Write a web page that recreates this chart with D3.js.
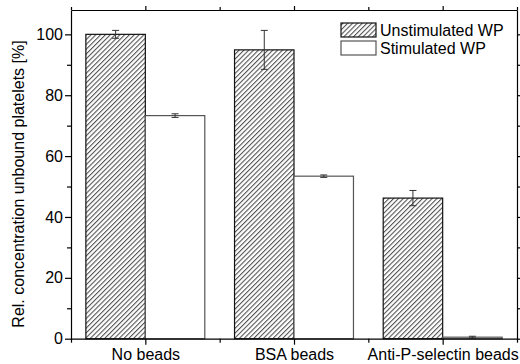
<!DOCTYPE html>
<html>
<head>
<meta charset="utf-8">
<script src="https://cdn.jsdelivr.net/npm/d3@7"></script>
<style>
  html, body { margin: 0; padding: 0; background: #fff; }
  svg { display: block; font-family: "Liberation Sans", Arial, sans-serif; }
</style>
</head>
<body>
<svg id="chart" width="520" height="364"></svg>
<script>
// Categories and measured values (mean ± error)
const categories = ["No beads", "BSA beads", "Anti-P-selectin beads"];
const seriesNames = ["Unstimulated WP", "Stimulated WP"];
const unstimulated = [100.0, 94.9, 46.2];
const unstimulatedErr = [1.3, 6.4, 2.5];
const stimulated = [73.3, 53.4, 0.5];
const stimulatedErr = [0.6, 0.4, 0.3];
const yTicks = [0, 20, 40, 60, 80, 100];
const yMinorTicks = [10, 30, 50, 70, 90];

const svg = d3.select("#chart");
const plotLeft = 71, plotRight = 517, plotTop = 10, plotBottom = 338.7;

const x = d3.scaleLinear().domain([0.5, 3.5]).range([plotLeft, plotRight]);
const y = d3.scaleLinear().domain([0, 108]).range([plotBottom, plotTop]);
const barW = 0.4;

// Diagonal hatch fill
const defs = svg.append("defs");
const hatchStep = 3.4;
const pat = defs.append("pattern")
  .attr("id", "hatch")
  .attr("patternUnits", "userSpaceOnUse")
  .attr("width", hatchStep).attr("height", hatchStep)
  .attr("patternTransform", "rotate(45)");
pat.append("rect").attr("width", hatchStep).attr("height", hatchStep).attr("fill", "#fff");
pat.append("line").attr("x1", 0.6).attr("y1", 0).attr("x2", 0.6).attr("y2", hatchStep)
  .attr("stroke", "#111").attr("stroke-width", 0.8);

const idx = d3.range(categories.length);

// Bars
svg.append("g").selectAll("rect").data(idx).join("rect")
  .attr("x", i => x(i + 1 - barW))
  .attr("y", i => y(unstimulated[i]))
  .attr("width", i => x(i + 1) - x(i + 1 - barW))
  .attr("height", i => y(0) - y(unstimulated[i]))
  .attr("fill", "url(#hatch)")
  .attr("stroke", "#111").attr("stroke-width", 1.2);

svg.append("g").selectAll("rect").data(idx).join("rect")
  .attr("x", i => x(i + 1))
  .attr("y", i => y(stimulated[i]))
  .attr("width", i => x(i + 1 + barW) - x(i + 1))
  .attr("height", i => y(0) - y(stimulated[i]))
  .attr("fill", "#fff")
  .attr("stroke", "#555").attr("stroke-width", 1.2);

// Error bars
function errorBars(vals, errs, offset) {
  const g = svg.append("g").attr("stroke", "#333").attr("stroke-width", 1);
  idx.forEach(i => {
    const cx = x(i + 1 + offset);
    const y1 = y(vals[i] + errs[i]), y2 = y(vals[i] - errs[i]);
    g.append("line").attr("x1", cx).attr("x2", cx).attr("y1", y1).attr("y2", y2);
    g.append("line").attr("x1", cx - 3.5).attr("x2", cx + 3.5).attr("y1", y1).attr("y2", y1);
    g.append("line").attr("x1", cx - 3.5).attr("x2", cx + 3.5).attr("y1", y2).attr("y2", y2);
  });
}
errorBars(unstimulated, unstimulatedErr, -barW / 2);
errorBars(stimulated, stimulatedErr, barW / 2);

// Axes frame
function styleAxis(g) {
  g.selectAll("path, line").attr("stroke", "#000").attr("stroke-width", 1.2);
  g.selectAll("text").attr("fill", "#000").style("font-size", "16px")
    .style("font-family", '"Liberation Sans", Arial, sans-serif');
}
const xMajor = [1, 2, 3];
const xMinor = [0.5, 1.5, 2.5, 3.5];

// bottom
const gb = svg.append("g").attr("transform", `translate(0,${plotBottom})`)
  .call(d3.axisBottom(x).tickValues(xMajor).tickSize(6).tickSizeOuter(0)
    .tickFormat(d => categories[d - 1]));
gb.selectAll("text").attr("y", 0).attr("dy", "21.3px");
gb.append("g").call(d3.axisBottom(x).tickValues(xMinor).tickSize(4).tickSizeOuter(0).tickFormat(""))
  .select(".domain").remove();
styleAxis(gb);

// top
const gt = svg.append("g").attr("transform", `translate(0,${plotTop})`)
  .call(d3.axisTop(x).tickValues(xMajor).tickSize(4).tickSizeOuter(0).tickFormat(""));
gt.append("g").call(d3.axisTop(x).tickValues(xMinor).tickSize(3).tickSizeOuter(0).tickFormat(""))
  .select(".domain").remove();
styleAxis(gt);

// left
const gl = svg.append("g").attr("transform", `translate(${plotLeft},0)`)
  .call(d3.axisLeft(y).tickValues(yTicks).tickSize(6).tickSizeOuter(0).tickPadding(2));
gl.append("g").call(d3.axisLeft(y).tickValues(yMinorTicks).tickSize(4).tickSizeOuter(0).tickFormat(""))
  .select(".domain").remove();
styleAxis(gl);

// right
const gr = svg.append("g").attr("transform", `translate(${plotRight},0)`)
  .call(d3.axisRight(y).tickValues(yTicks).tickSize(4).tickSizeOuter(0).tickFormat(""));
gr.append("g").call(d3.axisRight(y).tickValues(yMinorTicks).tickSize(3).tickSizeOuter(0).tickFormat(""))
  .select(".domain").remove();
styleAxis(gr);

// Y axis title
svg.append("text")
  .attr("transform", `translate(24,${(38 + 330) / 2}) rotate(-90)`)
  .attr("text-anchor", "middle")
  .style("font-size", "16px")
  .text("Rel. concentration unbound platelets [%]");

// Legend
const legend = svg.append("g");
const swatchFills = ["url(#hatch)", "#fff"];
const swatchStroke = ["#111", "#555"];
seriesNames.forEach((name, i) => {
  const yy = 23 + i * 18;
  legend.append("rect").attr("x", 341).attr("y", yy).attr("width", 35).attr("height", 14)
    .attr("fill", swatchFills[i]).attr("stroke", swatchStroke[i]).attr("stroke-width", 1.2);
  legend.append("text").attr("x", 380).attr("y", yy + 12.5)
    .style("font-size", "16px").text(name);
});
</script>
</body>
</html>
